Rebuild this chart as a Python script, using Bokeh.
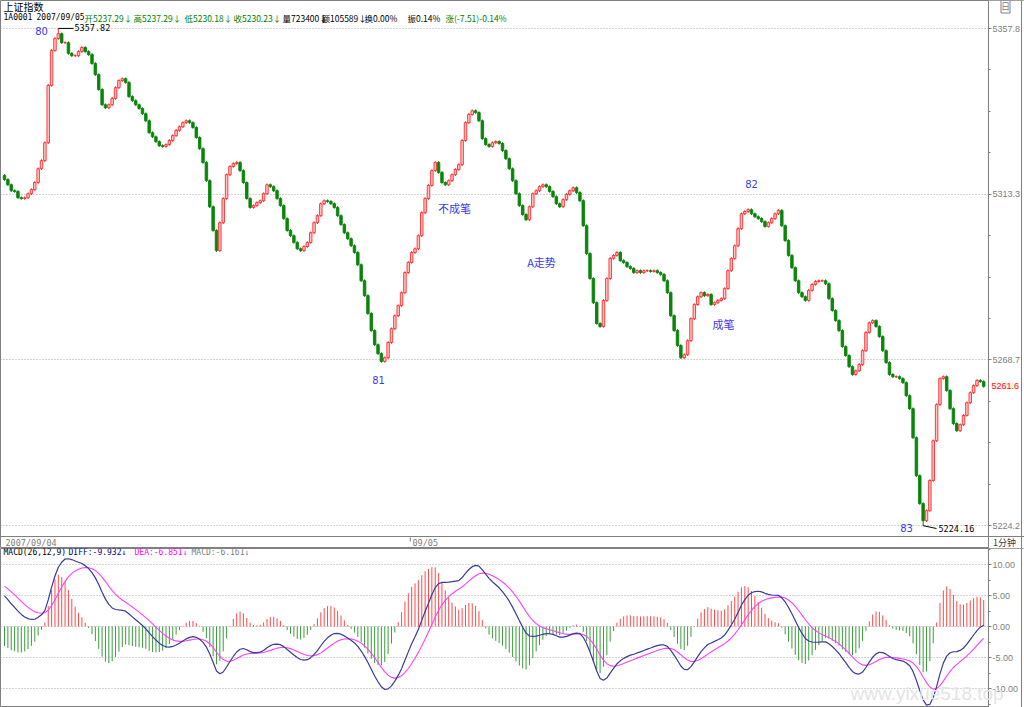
import numpy as np
from bokeh.plotting import figure
from bokeh.layouts import column
from bokeh.models import Range1d, FixedTicker, Label, Span, ColumnDataSource
from bokeh.embed import file_html
from bokeh.resources import INLINE

# ---------------- data ----------------
closes = [
    5317.2, 5315.8, 5314.2, 5314.0, 5312.3, 5312.1, 5312.3, 5313.4, 5314.5, 5316.4,
    5320.1, 5322.3, 5327.1, 5342.5, 5351.9, 5355.1, 5356.4, 5354.0, 5354.0, 5351.1,
    5350.5, 5350.5, 5351.6, 5352.7, 5351.6, 5350.8, 5348.4, 5345.4, 5341.4, 5337.3,
    5336.5, 5337.3, 5339.0, 5341.9, 5343.8, 5344.3, 5343.3, 5339.5, 5338.4, 5337.3,
    5336.3, 5334.9, 5333.0, 5329.8, 5328.7, 5327.4, 5326.3, 5326.1, 5326.6, 5327.7,
    5329.0, 5330.4, 5331.4, 5332.5, 5333.0, 5332.5, 5331.2, 5328.5, 5325.5, 5321.8,
    5316.9, 5309.9, 5303.5, 5298.1, 5305.6, 5312.1, 5318.5, 5320.7, 5321.5, 5321.8,
    5319.6, 5316.4, 5312.1, 5309.7, 5310.2, 5311.0, 5311.5, 5313.4, 5315.8, 5315.3,
    5314.2, 5312.1, 5310.2, 5306.7, 5303.5, 5302.1, 5300.3, 5298.6, 5298.1, 5299.2,
    5300.3, 5302.9, 5305.6, 5307.5, 5310.7, 5311.5, 5311.3, 5310.7, 5309.7, 5307.5,
    5305.1, 5302.9, 5301.3, 5299.4, 5297.6, 5294.3, 5290.0, 5286.0, 5281.2, 5276.6,
    5272.8, 5270.4, 5268.3, 5269.3, 5273.4, 5277.1, 5280.6, 5283.3, 5286.8, 5292.2,
    5294.9, 5297.6, 5298.6, 5302.1, 5308.3, 5312.1, 5315.6, 5319.6, 5321.8, 5319.1,
    5316.4, 5315.8, 5316.9, 5318.5, 5319.9, 5321.2, 5327.7, 5332.5, 5334.7, 5335.7,
    5335.2, 5333.0, 5328.2, 5326.6, 5326.1, 5327.1, 5327.4, 5326.9, 5325.0, 5322.8,
    5320.1, 5316.9, 5313.4, 5310.2, 5307.8, 5306.4, 5309.9, 5313.4, 5314.2, 5315.3,
    5315.8, 5315.3, 5314.0, 5312.6, 5310.7, 5309.9, 5311.8, 5313.2, 5314.2, 5315.0,
    5313.7, 5311.5, 5304.8, 5297.3, 5290.6, 5284.1, 5278.5, 5277.7, 5284.7, 5290.6,
    5296.0, 5296.8, 5297.6, 5295.4, 5294.9, 5293.8, 5293.3, 5292.2, 5292.7, 5292.2,
    5292.7, 5292.7, 5292.5, 5292.7, 5292.2, 5291.7, 5290.0, 5286.8, 5280.6, 5276.6,
    5272.6, 5269.3, 5270.1, 5273.9, 5279.8, 5283.6, 5285.7, 5286.8, 5286.0, 5286.3,
    5283.6, 5284.1, 5284.7, 5285.2, 5287.9, 5292.7, 5296.0, 5299.4, 5304.0, 5308.0,
    5308.6, 5309.1, 5308.0, 5307.2, 5306.7, 5305.9, 5304.6, 5305.6, 5306.7, 5308.0,
    5308.9, 5304.8, 5300.8, 5296.8, 5293.5, 5290.0, 5286.8, 5285.7, 5284.7, 5287.4,
    5289.0, 5289.8, 5290.0, 5290.0, 5289.2, 5285.2, 5282.0, 5279.3, 5276.6, 5272.3,
    5269.9, 5266.9, 5264.8, 5265.8, 5267.5, 5271.2, 5276.1, 5278.7, 5279.3, 5277.7,
    5275.0, 5271.2, 5268.0, 5264.8, 5264.2, 5264.2, 5263.7, 5262.6, 5259.1, 5255.6,
    5247.8, 5237.6, 5230.1, 5225.5, 5228.2, 5236.3, 5247.0, 5256.7, 5263.7, 5264.2,
    5260.5, 5255.6, 5251.6, 5249.7, 5251.3, 5253.8, 5257.2, 5259.9, 5261.8, 5263.2,
    5262.9, 5261.6,
]
first_open = 5318.3
peak_idx, peak_high = 16, 5357.82
trough_idx, trough_low = 273, 5224.16
day_start_idx = 121

price_ticks = [5224.2, 5268.7, 5313.3, 5357.8]
macd_ticks = [-10, -5, 0, 5, 10]
macd_tick_labels = ["-10.00", "-5.00", "0.00", "5.00", "10.00"]

# EMA state at the first bar, estimated from DIFF (~5.5) and DEA (~6.9) read at the left edge
ema12_seed, ema26_seed, dea_seed = 5319.2, 5313.7, 6.9

header_title = "上证指数"
header_parts = [
    ("1A0001", "#000000"), ("2007/09/05", "#000000"),
    ("开5237.29↓", "#008000"), ("高5237.29↓", "#008000"),
    ("低5230.18↓", "#008000"), ("收5230.23↓", "#008000"),
    ("量723400↓", "#000000"), ("额105589↓", "#000000"),
    ("换0.00%", "#000000"), ("振0.14%", "#000000"),
    ("涨(-7.51)-0.14%", "#008000"),
]
macd_header = [("MACD(26,12,9)", "#000000"), ("DIFF:-9.932↓", "#000080"),
               ("DEA:-6.851↓", "#ff00ff"), ("MACD:-6.161↓", "#808080")]
notes = ["80", "81", "不成笔", "A走势", "成笔", "82", "83"]
last_price = 5261.6
dates = ["2007/09/04", "09/05"]

# ---------------- derived ----------------
n = len(closes)
idx = np.arange(n)
c = np.array(closes)
o = np.array([first_open] + closes[:-1])
top = np.maximum(o, c)
bot = np.minimum(o, c)
hi = top + 0.35
lo = bot - 0.35
hi[peak_idx] = peak_high
lo[trough_idx] = trough_low
up = c >= o

# MACD (standard definition 26/12/9)
diff, dea = [], []
e12, e26, d = ema12_seed, ema26_seed, dea_seed
for v in closes:
    e12 += 2 / 13 * (v - e12)
    e26 += 2 / 27 * (v - e26)
    df = e12 - e26
    d += 0.2 * (df - d)
    diff.append(df)
    dea.append(d)
diff = np.array(diff)
dea = np.array(dea)
hist = 2 * (diff - dea)

# ---------------- layout constants ----------------
W, H1, H2 = 1024, 548, 159
AXIS_PX = 988          # x of the price-axis line
BAR_PX = 3.365
X0_PX = 4.0
xr = Range1d(-X0_PX / BAR_PX, (W - X0_PX) / BAR_PX)
PPX = 0.2688  # price per pixel
y_top = 5357.8 + 28 * PPX
p1_range = Range1d(y_top - H1 * PPX, y_top)


def px_price(py):
    return y_top - py * PPX


def px_x(px):
    return (px - X0_PX) / BAR_PX


MONO = "DejaVu Sans Mono"
AXF = "Liberation Sans"
CJK = "Noto Sans CJK SC"


def lab(fig, fh, text, sx, sy, color, size, font=MONO, align="left", **kw):
    fig.add_layout(Label(x=sx, y=fh - sy, x_units="screen", y_units="screen", text=text,
                         text_color=color, text_font_size=f"{size}px", text_font=font,
                         text_align=align, text_baseline="middle", **kw))


def style(fig, yr):
    fig.background_fill_color = "white"
    fig.border_fill_color = "white"
    fig.outline_line_color = "#808080"
    fig.min_border_left = 0
    fig.min_border_top = 0
    fig.min_border_bottom = 0
    fig.min_border_right = 0
    # white right-hand column hides the dotted grid there
    fig.quad(left=[px_x(AXIS_PX)], right=[px_x(W + 2)], bottom=[yr.start], top=[yr.end],
             fill_color="white", line_color=None)
    ax = fig.yaxis[0]
    ax.fixed_location = px_x(AXIS_PX)
    ax.axis_line_color = "#808080"
    ax.major_tick_line_color = "#808080"
    ax.minor_tick_line_color = "#808080"
    ax.major_tick_in = 0
    ax.major_tick_out = 3
    ax.minor_tick_in = 0
    ax.minor_tick_out = 2
    ax.major_label_standoff = 1
    ax.major_label_text_color = "#808080"
    ax.major_label_text_font = AXF
    ax.major_label_text_font_size = "9px"
    g = fig.ygrid[0]
    g.grid_line_color = "#a8a8a8"
    g.grid_line_dash = "1 2"
    fig.xgrid.visible = False
    fig.add_layout(Span(location=px_x(1021), dimension="height", line_color="#808080", line_width=1))


# ---------------- main price panel ----------------
p1 = figure(width=W, height=H1, x_range=xr, y_range=p1_range, output_backend="svg",
            toolbar_location=None, x_axis_location=None, y_axis_location="right", tools="")
style(p1, p1_range)
pt = FixedTicker(ticks=price_ticks,
                 minor_ticks=[5224.2 + k * 44.53 / 4 for k in range(13)])
p1.yaxis.ticker = pt
p1.ygrid.ticker = FixedTicker(ticks=price_ticks)

src = ColumnDataSource(dict(x=idx, top=top, bot=bot, hi=hi, lo=lo,
                            wc=np.where(up, "#ff2a2a", "#0a840a"),
                            fc=np.where(up, "#ffc4c4", "#0a840a"),
                            lc=np.where(up, "#ff2a2a", "#0a840a")))
p1.segment(x0="x", y0="lo", x1="x", y1="hi", line_color="wc", line_width=1, source=src)
p1.vbar(x="x", width=0.74, top="top", bottom="bot", fill_color="fc", line_color="lc",
        line_width=0.9, source=src)

# separator of the date strip
p1.add_layout(Span(location=px_price(536), dimension="width", line_color="#808080", line_width=1))
p1.segment(x0=[day_start_idx - 0.4], x1=[day_start_idx - 0.4], y0=[px_price(537)], y1=[px_price(541)],
           line_color="#808080", line_width=1)

# extreme markers
p1.segment(x0=[peak_idx], x1=[px_x(73)], y0=[peak_high], y1=[peak_high], line_color="#000000", line_width=1)
p1.segment(x0=[trough_idx], x1=[px_x(936)], y0=[trough_low], y1=[px_price(528)], line_color="#000000",
           line_width=1)
lab(p1, H1, f"{peak_high:.2f}", 74, 27, "#000000", 8.5)
lab(p1, H1, f"{trough_low:.2f}", 938, 528, "#000000", 8.5)

# header
lab(p1, H1, header_title, 3, 6, "#000000", 10, CJK)
hx = [3, 36, 84, 133, 184, 233, 282, 321, 364, 407, 445]
for (t, col), x in zip(header_parts, hx):
    cjk = any(ord(ch) > 255 for ch in t)
    lab(p1, H1, t, x, 17, col, 8.5 if cjk else 8, CJK if cjk else MONO)

# notes
BLUE = "#3a3af0"
note_pos = [(41, 30), (378, 379), (454, 207), (541, 261), (723, 323), (751, 183), (906, 527)]
for t, (x, y) in zip(notes, note_pos):
    lab(p1, H1, t, x, y, BLUE, 10 if t.isdigit() else 11, "DejaVu Sans" if t.isdigit() else CJK,
        align="center")

# dates
lab(p1, H1, dates[0], 5, 542, "#808080", 8.5)
lab(p1, H1, dates[1], 412, 542, "#808080", 8.5)

# right column extras
p1.add_layout(Label(x=px_x(991), y=last_price, text=f"{last_price:.1f}", text_color="#ff2020",
                    text_font_size="9px", text_font=AXF, text_baseline="middle",
                    background_fill_color="#f5eeee"))
lab(p1, H1, "日", 1005, 6, "#808080", 9, CJK, align="center", border_line_color="#808080")
lab(p1, H1, "1分钟", 1004, 542, "#404040", 9, CJK, align="center")

# ---------------- MACD panel ----------------
m_units = 6.2
m_top = (626 - 548) / m_units
p2_range = Range1d(m_top - H2 / m_units, m_top)
p2 = figure(width=W, height=H2, x_range=xr, y_range=p2_range,
            output_backend="svg", toolbar_location=None, x_axis_location=None,
            y_axis_location="right", tools="")
style(p2, p2_range)
mt = FixedTicker(ticks=macd_ticks, minor_ticks=[-12.5, -7.5, -2.5, 2.5, 7.5, 12.5])
p2.yaxis.ticker = mt
p2.ygrid.ticker = FixedTicker(ticks=macd_ticks)
p2.yaxis.major_label_overrides = {t: s for t, s in zip(macd_ticks, macd_tick_labels)}

hsrc = ColumnDataSource(dict(x=idx, h=hist, z=np.zeros(n),
                             col=np.where(hist >= 0, "#ff4a4a", "#3a9e3a")))
p2.segment(x0="x", y0="z", x1="x", y1="h", line_color="col", line_width=1, source=hsrc)
p2.line(idx, dea, line_color="#ff40ff", line_width=1.1)
p2.line(idx, diff, line_color="#3a3a9c", line_width=1.2)

mx = [3, 68, 134, 191]
for (t, col), x in zip(macd_header, mx):
    lab(p2, H2, t, x, 552 - 548, col, 8)

lab(p2, H2, "www.yixue518.top", 850, 693 - 548, "#e4e4e4", 19, "Liberation Sans")

layout = column(p1, p2, spacing=0)
open("out.html", "w").write(file_html(layout, INLINE))
